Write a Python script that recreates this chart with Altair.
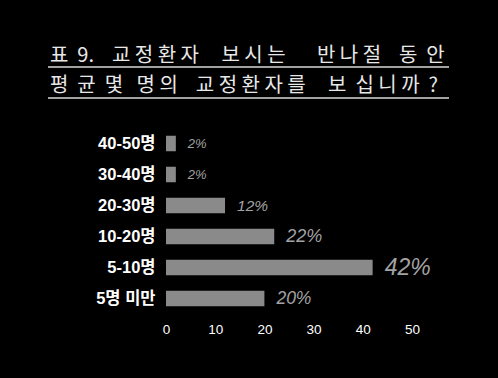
import altair as alt
import pandas as pd

categories = ["40-50명", "30-40명", "20-30명", "10-20명", "5-10명", "5명 미만"]
values = [2, 2, 12, 22, 42, 20]
labels = ["2%", "2%", "12%", "22%", "42%", "20%"]
x_ticks = [0, 10, 20, 30, 40, 50]
title_lines = ["표  9.    교 정 환 자     보 시 는       반 나 절    동  안",
               "평  균  몇   명 의    교 정 환 자 를     보  십 니 까  ?"]

NB = "\u00a0"
title_lines = [s.replace(" ", NB) for s in title_lines]

df = pd.DataFrame({"cat": categories, "value": values, "label": labels})

W, H = 246, 186
PL, PT = 166, 128

y_enc = alt.Y("cat:N", sort=categories, title=None,
              scale=alt.Scale(paddingInner=0.5, paddingOuter=0.25),
              axis=alt.Axis(labelColor="white", labelFont="Liberation Sans, Noto Sans CJK KR",
                            labelFontWeight="bold", labelFontSize=16.5,
                            labelPadding=11, domain=False, ticks=False))
x_enc = alt.X("value:Q", title=None,
              scale=alt.Scale(domain=[0, 50]),
              axis=alt.Axis(values=x_ticks, labelColor="white", labelFont="Liberation Sans",
                            labelFontSize=13.5, labelPadding=8, domain=False, ticks=False,
                            grid=False, labelFlush=False))

bars = alt.Chart(df).mark_bar(color="#8a8a8a").encode(x=x_enc, y=y_enc)

pct = alt.Chart(df).mark_text(align="left", baseline="middle", dx=12,
                              font="Liberation Sans", fontStyle="italic",
                              color="#a3a3a3").encode(
    x="value:Q",
    y=alt.Y("cat:N", sort=categories),
    text="label:N",
    size=alt.Size("value:Q", scale=alt.Scale(domain=[2, 42], range=[13, 23]), legend=None),
)

t1 = alt.Chart(pd.DataFrame({"t": [title_lines[0]]})).mark_text(
    align="left", baseline="alphabetic", font="Noto Sans CJK KR", fontSize=20,
    fontWeight="normal", color="#e8e8e8").encode(text="t:N", x=alt.value(50 - PL), y=alt.value(62 - PT))
t2 = alt.Chart(pd.DataFrame({"t": [title_lines[1]]})).mark_text(
    align="left", baseline="alphabetic", font="Noto Sans CJK KR", fontSize=20,
    fontWeight="normal", color="#e8e8e8").encode(text="t:N", x=alt.value(50 - PL), y=alt.value(92 - PT))

u1 = alt.Chart(pd.DataFrame({"a": [0]})).mark_rule(color="#d8d8d8", strokeWidth=1.5).encode(
    x=alt.value(48 - PL), x2=alt.value(449 - PL), y=alt.value(67 - PT))
u2 = alt.Chart(pd.DataFrame({"a": [0]})).mark_rule(color="#d8d8d8", strokeWidth=1.5).encode(
    x=alt.value(48 - PL), x2=alt.value(449 - PL), y=alt.value(98 - PT))

chart = alt.layer(bars, pct, t1, t2, u1, u2).properties(
    width=W, height=H,
    background="black",
    padding={"left": PL, "top": PT, "right": 498 - PL - W, "bottom": 378 - PT - H},
    autosize=alt.AutoSizeParams(type="none"),
).configure_view(stroke=None)

chart.save("out.html", embed_options={"renderer": "svg", "actions": False})
